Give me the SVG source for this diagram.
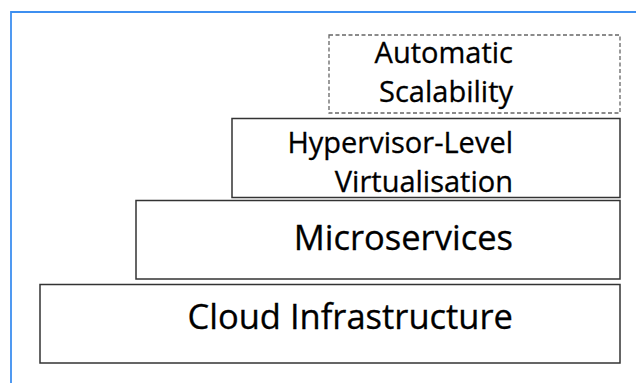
<svg xmlns="http://www.w3.org/2000/svg" width="636" height="383" viewBox="0 0 636 383">
<style>
.box{fill:#ffffff;stroke:#333333;stroke-width:1.5}
.dash{fill:#ffffff;stroke:#666666;stroke-width:1.3;stroke-dasharray:4 2.5}
.t{font-family:"Open Sans","Noto Sans",sans-serif;fill:#000000;stroke:#000000;stroke-width:0.3;text-anchor:end}
.s{font-size:29px}
.l{font-size:34.5px}
</style>
<rect width="636" height="383" fill="#ffffff"/>
<path d="M11,383 V12 H636" fill="none" stroke="#3d8ff0" stroke-width="1.8"/>
<g id="connectors"></g>
<g id="automatic-scalability">
<rect class="dash" x="329" y="35" width="291" height="78"/>
<text class="t s" x="513" y="63">Automatic</text>
<text class="t s" x="513" y="102">Scalability</text>
</g>
<g id="hypervisor-level-virtualisation">
<rect class="box" x="232" y="118.5" width="388" height="79"/>
<text class="t s" x="513" y="152.5">Hypervisor-Level</text>
<text class="t s" x="513" y="192">Virtualisation</text>
</g>
<g id="microservices">
<rect class="box" x="136" y="200.5" width="484" height="78.5"/>
<text class="t l" x="513" y="249.5">Microservices</text>
</g>
<g id="cloud-infrastructure">
<rect class="box" x="40" y="284.5" width="580" height="78.5"/>
<text class="t l" x="513" y="328.5">Cloud Infrastructure</text>
</g>
</svg>
